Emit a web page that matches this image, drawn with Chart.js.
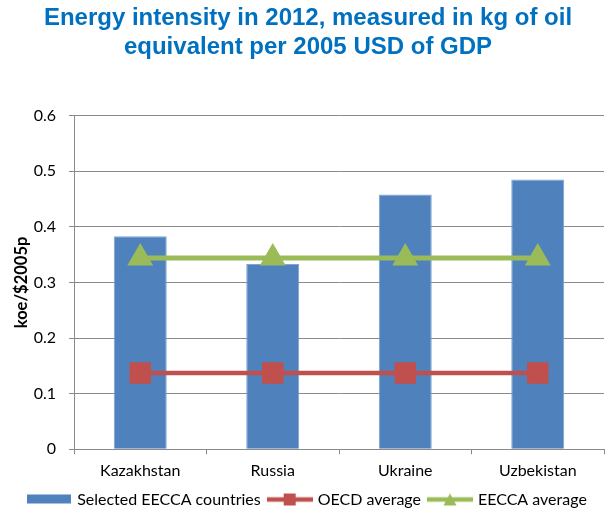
<!DOCTYPE html>
<html>
<head>
<meta charset="utf-8">
<script src="https://cdn.jsdelivr.net/npm/chart.js@4"></script>
<style>
  html, body { margin: 0; padding: 0; background: #fff; overflow: hidden; }
  #wrap { width: 611px; height: 511px; }
  canvas { display: block; }
</style>
</head>
<body>
<div id="wrap"><canvas id="c" width="611" height="511"></canvas></div>
<script>
const countries = ['Kazakhstan', 'Russia', 'Ukraine', 'Uzbekistan'];
const countryIntensity = [0.383, 0.333, 0.458, 0.485];
const oecdAverage = [0.137, 0.137, 0.137, 0.137];
const eeccaAverage = [0.344, 0.344, 0.344, 0.344];
const yTicks = [0, 0.1, 0.2, 0.3, 0.4, 0.5, 0.6];

const BLUE = '#4F81BD';
const RED = '#C0504D';
const GREEN = '#9BBB59';
const GRID = '#8a8a8a';
const FONT = 'Lato, "Open Sans", sans-serif';

// Legend swatches: bar box, and line segments carrying their marker
function swatch(kind, color) {
  const w = kind === 'bar' ? 44 : 46, h = 14;
  const cv = document.createElement('canvas');
  cv.width = w; cv.height = h;
  const g = cv.getContext('2d');
  g.fillStyle = color; g.strokeStyle = color;
  if (kind === 'bar') {
    g.fillRect(0, 2, w, 9);
  } else {
    g.lineWidth = 4.5;
    g.beginPath(); g.moveTo(0, 7); g.lineTo(w, 7); g.stroke();
    if (kind === 'rect') {
      g.fillRect(w / 2 - 6, 1, 12, 12);
    } else {
      g.beginPath();
      g.moveTo(w / 2, 1); g.lineTo(w / 2 + 6.5, 13); g.lineTo(w / 2 - 6.5, 13);
      g.closePath(); g.fill();
    }
  }
  return cv;
}

new Chart(document.getElementById('c'), {
  data: {
    labels: countries,
    datasets: [
      {
        type: 'line',
        label: 'EECCA average',
        data: eeccaAverage,
        borderColor: GREEN,
        backgroundColor: GREEN,
        borderWidth: 5,
        pointStyle: 'triangle',
        pointRadius: 10,
        pointHoverRadius: 10,
        order: 0,
        legendIcon: swatch('tri', GREEN),
        legendIndex: 2
      },
      {
        type: 'line',
        label: 'OECD average',
        data: oecdAverage,
        borderColor: RED,
        backgroundColor: RED,
        borderWidth: 4.5,
        pointStyle: 'rect',
        pointRadius: 12,
        pointHoverRadius: 12,
        order: 1,
        legendIcon: swatch('rect', RED),
        legendIndex: 1
      },
      {
        type: 'bar',
        label: 'Selected EECCA countries',
        data: countryIntensity,
        backgroundColor: BLUE,
        borderColor: '#7FA3D3',
        borderWidth: 1,
        categoryPercentage: 1.0,
        barPercentage: 0.4,
        order: 2,
        legendIcon: swatch('bar', BLUE),
        legendIndex: 0
      }
    ]
  },
  options: {
    responsive: false,
    animation: false,
    layout: { autoPadding: false, padding: { left: 12, right: 7, top: 0, bottom: -6.5 } },
    plugins: {
      title: {
        display: true,
        text: ['Energy intensity in 2012, measured in kg of oil', 'equivalent per 2005 USD of GDP'],
        color: '#0070C0',
        font: { family: '"Liberation Sans", Arial, sans-serif', size: 24, weight: 'bold' },
        lineHeight: 1.17,
        padding: { top: 4, bottom: 54 }
      },
      legend: {
        position: 'bottom',
        labels: {
          usePointStyle: true,
          pointStyleWidth: 40,
          boxHeight: 12,
          padding: 9,
          color: '#000',
          font: { family: FONT, size: 16 },
          generateLabels(chart) {
            return chart.data.datasets
              .map((ds, i) => ({
                text: ds.label,
                pointStyle: ds.legendIcon,
                fillStyle: ds.backgroundColor,
                strokeStyle: ds.backgroundColor,
                lineWidth: 0,
                datasetIndex: i,
                order: ds.legendIndex
              }))
              .sort((a, b) => a.order - b.order);
          }
        }
      },
      tooltip: { enabled: false }
    },
    scales: {
      x: {
        offset: true,
        afterFit(axis) {
          // category labels sit well inside their bands; no side padding needed
          axis.paddingLeft = 0;
          axis.paddingRight = 0;
          axis.height -= 5;
        },
        grid: {
          offset: true,
          drawOnChartArea: false,
          drawTicks: true,
          tickLength: 5,
          color: GRID
        },
        border: { color: GRID },
        ticks: { color: '#000', font: { family: FONT, size: 16 }, padding: 7 }
      },
      y: {
        min: 0,
        max: 0.6,
        afterBuildTicks(axis) {
          axis.ticks = yTicks.map(v => ({ value: v }));
        },
        afterFit(axis) {
          axis.width = 62;
        },
        grid: { color: GRID, tickLength: 5, lineWidth: 1 },
        border: { color: GRID },
        ticks: {
          color: '#000',
          font: { family: FONT, size: 16 },
          padding: 13,
          callback: v => (v === 0 ? '0' : v.toFixed(1))
        },
        title: {
          display: true,
          text: 'koe/$2005p',
          color: '#000',
          font: { family: FONT, size: 16.5, weight: 'bold' },
          padding: { top: 0, bottom: 3 }
        }
      }
    }
  }
});
</script>
</body>
</html>
